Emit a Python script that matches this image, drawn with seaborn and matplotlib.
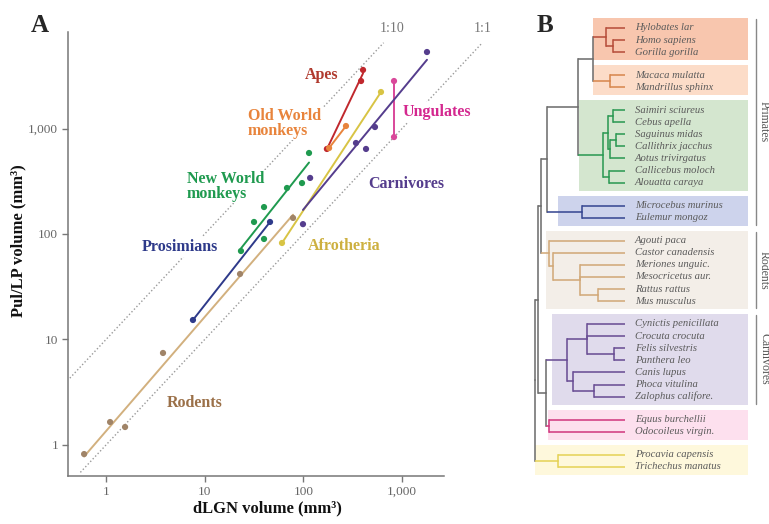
import numpy as np
import pandas as pd
import matplotlib
matplotlib.use("Agg")
import matplotlib.pyplot as plt
from matplotlib.patches import Rectangle
import seaborn as sns

sns.set_style("white")
plt.rcParams["font.family"] = ["Liberation Serif", "DejaVu Serif"]

# --- panel A data (dLGN vs Pul/LP volume, mm^3) ---
groups = ["Rodents", "Prosimians", "New World", "Apes", "Old World",
          "Ungulates", "Afrotheria", "Carnivores"]
rod_x = [0.60, 1.10, 1.56, 3.78, 22.8, 78.5]
rod_y = [0.82, 1.65, 1.48, 7.45, 41.8, 142]
pro_x = [7.6, 45.9]
pro_y = [15.3, 130]
nwm_x = [23.3, 39.9, 31.6, 39.9, 68.2, 96.8, 114]
nwm_y = [69, 89.7, 130, 180, 273, 304, 586]
ape_x = [173, 384, 402]
ape_y = [640, 2820, 3590]
owm_x = [182, 270]
owm_y = [653, 1056]
ung_x = [828, 828]
ung_y = [830, 2820]
afr_x = [60.7, 611]
afr_y = [82.2, 2218]
car_x = [99, 117, 341, 431, 531, 1787]
car_y = [124, 340, 729, 640, 1033, 5310]

group_x = [rod_x, pro_x, nwm_x, ape_x, owm_x, ung_x, afr_x, car_x]
group_y = [rod_y, pro_y, nwm_y, ape_y, owm_y, ung_y, afr_y, car_y]

pt_colors = {"Rodents": "#a08468", "Prosimians": "#2e3a8a", "New World": "#1f9a4f",
             "Apes": "#c0282d", "Old World": "#e8843c", "Ungulates": "#d9489a",
             "Afrotheria": "#d8c444", "Carnivores": "#553d8d"}
ln_colors = dict(pt_colors, Rodents="#d2b07e")

df = pd.DataFrame({
    "dlgn": np.concatenate(group_x),
    "pul": np.concatenate(group_y),
    "group": np.repeat(groups, [len(g) for g in group_x]),
})

fig = plt.figure(figsize=(7.69, 5.24), dpi=100)
ax = fig.add_axes([68 / 769, 48 / 524, 376 / 769, 444 / 524])
ax.set_xscale("log")
ax.set_yscale("log")
ax.set_xlim(0.412, 2658)
ax.set_ylim(0.508, 8220)

# reference lines 1:10 and 1:1
ax.plot([0.43, 650], [4.3, 6500], ls=(0, (1, 1.6)), color="#9a9a9a", lw=1, zorder=1, clip_on=False)
ax.plot([0.55, 6300], [0.55, 6300], ls=(0, (1, 1.6)), color="#9a9a9a", lw=1, zorder=1, clip_on=False)
ax.text(790, 8900, "1:10", ha="center", va="center", fontsize=10, color="#777777")
ax.text(6600, 8900, "1:1", ha="center", va="center", fontsize=10, color="#777777")

# fitted lines in log space
for g, xs, ys in zip(groups, group_x, group_y):
    lx, ly = np.log10(xs), np.log10(ys)
    if len(xs) == 2:
        fx, fy = np.array(xs), np.array(ys)
    else:
        b, a = np.polyfit(lx, ly, 1)
        fx = 10 ** np.array([lx.min(), lx.max()])
        fy = 10 ** (a + b * np.log10(fx))
    ax.plot(fx, fy, color=ln_colors[g], lw=1.4, zorder=2)

sns.scatterplot(data=df, x="dlgn", y="pul", hue="group", palette=pt_colors,
                s=20, edgecolor="none", legend=False, ax=ax, zorder=3)

labels = [("Prosimians", 5.62, 75.3, "center", "Prosimians"),
          ("New World\nmonkeys", 6.62, 282, "left", "New World"),
          ("Old World\nmonkeys", 27.5, 1115, "left", "Old World"),
          ("Apes", 154, 3210, "center", "Apes"),
          ("Ungulates", 1021, 1433, "left", "Ungulates"),
          ("Carnivores", 452, 298, "left", "Carnivores"),
          ("Afrotheria", 111, 77, "left", "Afrotheria"),
          ("Rodents", 4.15, 2.5, "left", "Rodents")]
lab_colors = dict(pt_colors, Rodents="#9b7048", Apes="#b03a2e", Afrotheria="#cdb040",
                  Ungulates="#d4288f")
for txt, x, y, ha, g in labels:
    ax.text(x, y, txt, ha=ha, va="center", fontsize=11.5, fontweight="bold",
            color=lab_colors[g], linespacing=0.85, zorder=4,
            bbox=dict(boxstyle="square,pad=0.1", fc="white", ec="none"))

ax.set_xticks([1, 10, 100, 1000])
ax.set_xticklabels(["1", "10", "100", "1,000"])
ax.set_yticks([1, 10, 100, 1000])
ax.set_yticklabels(["1", "10", "100", "1,000"])
ax.minorticks_off()
ax.tick_params(axis="both", which="major", direction="out", length=4, width=1,
               color="#777777", labelcolor="#666666", labelsize=9.5, pad=3,
               bottom=True, left=True)
for s in ["top", "right"]:
    ax.spines[s].set_visible(False)
for s in ["left", "bottom"]:
    ax.spines[s].set_color("#777777")
    ax.spines[s].set_linewidth(1.1)
ax.set_xlabel("dLGN volume (mm³)", fontsize=12, fontweight="bold", color="#111111", va="center")
ax.set_ylabel("Pul/LP volume (mm³)", fontsize=12, fontweight="bold", color="#111111", va="center")
ax.xaxis.set_label_coords(0.53, -0.073)
ax.yaxis.set_label_coords(-0.133, 0.53)
fig.text(40 / 769, 1 - 25 / 524, "A", fontsize=18, fontweight="bold", ha="center", va="center")

# --- panel B: phylogeny ---
clades = ["Apes", "Old World", "New World", "Prosimians", "Rodents", "Carnivores",
          "Ungulates", "Afrotheria"]
clade_species = [
    ["Hylobates lar", "Homo sapiens", "Gorilla gorilla"],
    ["Macaca mulatta", "Mandrillus sphinx"],
    ["Saimiri sciureus", "Cebus apella", "Saguinus midas", "Callithrix jacchus",
     "Aotus trivirgatus", "Callicebus moloch", "Alouatta caraya"],
    ["Microcebus murinus", "Eulemur mongoz"],
    ["Agouti paca", "Castor canadensis", "Meriones unguic.", "Mesocricetus aur.",
     "Rattus rattus", "Mus musculus"],
    ["Cynictis penicillata", "Crocuta crocuta", "Felis silvestris", "Panthera leo",
     "Canis lupus", "Phoca vitulina", "Zalophus califore."],
    ["Equus burchellii", "Odocoileus virgin."],
    ["Procavia capensis", "Trichechus manatus"],
]
tree_col = {"Apes": "#b8503c", "Old World": "#d88850", "New World": "#2e9a55",
            "Prosimians": "#3a4a94", "Rodents": "#d2aa7a", "Carnivores": "#6b4f95",
            "Ungulates": "#d23c82", "Afrotheria": "#e6d35a", "base": "#707070"}
box_col = {"Apes": "#f8c6ae", "Old World": "#fcdcc8", "New World": "#d4e6cf",
           "Prosimians": "#cdd3ec", "Rodents": "#f3eee8", "Carnivores": "#e0dbec",
           "Ungulates": "#fde0ee", "Afrotheria": "#fef8dc"}
box_left = {"Apes": 593, "Old World": 593, "New World": 579, "Prosimians": 558,
            "Rodents": 546, "Carnivores": 552, "Ungulates": 548, "Afrotheria": 535}

# node depth (x), colour, children
apes = (606, tree_col["Apes"], ["Hylobates lar", (613, None, ["Homo sapiens", "Gorilla gorilla"])])
oldw = (610, tree_col["Old World"], ["Macaca mulatta", "Mandrillus sphinx"])
neww = (603, tree_col["New World"], [
    (608, None, [(613, None, ["Saimiri sciureus", "Cebus apella"]),
                 (610, None, [(616, None, ["Saguinus midas", "Callithrix jacchus"]), "Aotus trivirgatus"])]),
    (609, None, ["Callicebus moloch", "Alouatta caraya"])])
pros = (582, tree_col["Prosimians"], ["Microcebus murinus", "Eulemur mongoz"])
rode = (549, tree_col["Rodents"], ["Agouti paca", (553, None, ["Castor canadensis",
        (580, None, ["Meriones unguic.", "Mesocricetus aur.", (598, None, ["Rattus rattus", "Mus musculus"])])])])
carn = (567, tree_col["Carnivores"], [
    (587, None, ["Cynictis penicillata", "Crocuta crocuta", (614, None, ["Felis silvestris", "Panthera leo"])]),
    (573, None, ["Canis lupus", (594, None, ["Phoca vitulina", "Zalophus califore."])])])
ungu = (549, tree_col["Ungulates"], ["Equus burchellii", "Odocoileus virgin."])
afro = (558, tree_col["Afrotheria"], ["Procavia capensis", "Trichechus manatus"])
gray = tree_col["base"]
tree = (535, gray, [
    (538, gray, [
        (541, gray, [(547, gray, [(578, gray, [(593, gray, [apes, oldw]), neww]), pros]), rode]),
        (546, gray, [carn, ungu])]),
    afro])
tip_x = 625

axb = fig.add_axes([520 / 769, 0, 249 / 769, 1])
axb.set_xlim(520, 769)
axb.set_ylim(524, 0)
axb.axis("off")

leaf_y = {}
row = 0
for gi, names in enumerate(clade_species):
    for n in names:
        leaf_y[n] = 28 + 12.1 * row + 10.8 * gi
        row += 1


def node_y(n):
    if isinstance(n, str):
        return leaf_y[n]
    ys = [node_y(c) for c in n[2]]
    return (ys[0] + ys[-1]) / 2


def draw(n, col):
    # vertical part in the node's colour, horizontal branch in the child's colour
    x0, c0, kids = n
    c0 = c0 or col
    y0 = node_y(n)
    for k in kids:
        if isinstance(k, str):
            kx, kc = tip_x, c0
        else:
            kx, kc = k[0], k[1] or c0
        ky = node_y(k)
        axb.plot([x0, x0], [y0, ky], color=c0, lw=1.15, zorder=2, solid_capstyle="projecting")
        axb.plot([x0, kx], [ky, ky], color=kc, lw=1.15, zorder=2, solid_capstyle="butt")
        if not isinstance(k, str):
            draw(k, kc)


for g, names in zip(clades, clade_species):
    y_top = leaf_y[names[0]] - 10
    y_bot = leaf_y[names[-1]] + 8
    axb.add_patch(Rectangle((box_left[g], y_top), 748 - box_left[g], y_bot - y_top,
                            fc=box_col[g], ec="none", zorder=1))
    for n in names:
        axb.text(635, leaf_y[n], n, fontsize=7.7, style="italic", color="#5a5a5a",
                 ha="left", va="center", zorder=3)

draw(tree, gray)

orders = [("Primates", "Hylobates lar", "Eulemur mongoz"),
          ("Rodents", "Agouti paca", "Mus musculus"),
          ("Carnivores", "Cynictis penicillata", "Zalophus califore.")]
for name, first, last in orders:
    y1, y2 = leaf_y[first] - 9, leaf_y[last] + 7
    axb.plot([756, 756], [y1, y2], color="#888888", lw=1)
    axb.text(764, (y1 + y2) / 2, name, rotation=-90, fontsize=8.5, color="#555555",
             ha="center", va="center", clip_on=False)

fig.text(545 / 769, 1 - 25 / 524, "B", fontsize=18, fontweight="bold", ha="center", va="center")

fig.savefig("out.png", dpi=100)
